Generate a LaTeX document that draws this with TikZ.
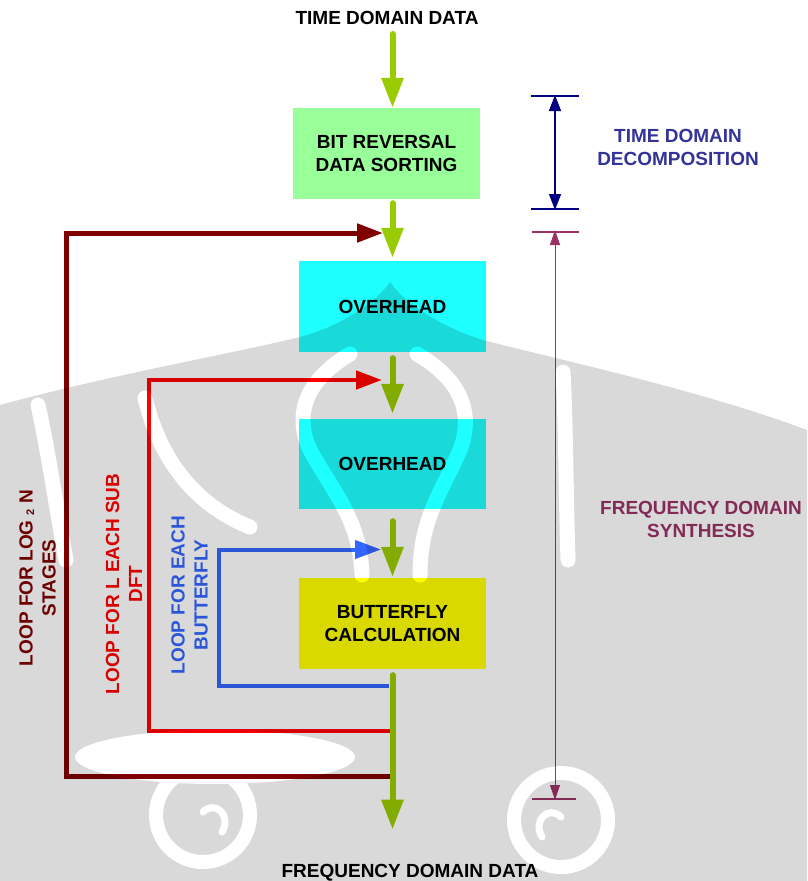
\documentclass[tikz,border=0pt]{standalone}
\usepackage{fontspec}
\setmainfont{Liberation Sans}
\usetikzlibrary{arrows.meta}

\definecolor{flowgreen}{HTML}{99CC00}
\definecolor{sortgreen}{HTML}{99FF99}
\definecolor{overcyan}{HTML}{1EFFFF}
\definecolor{bflyyellow}{HTML}{FFFF00}
\definecolor{stagered}{HTML}{800000}
\definecolor{subred}{HTML}{FF0000}
\definecolor{bflyblue}{HTML}{3366FF}
\definecolor{decnavy}{HTML}{000080}
\definecolor{dectext}{HTML}{333399}
\definecolor{synpurple}{HTML}{993366}
\definecolor{wmark}{HTML}{D9D9D9}

\tikzset{
  lbl/.style={font=\bfseries\fontsize{19}{23}\selectfont, inner sep=0pt, align=center},
  stagebox/.style={lbl, minimum width=187pt, minimum height=91pt},
  flow/.style={draw=flowgreen, line width=6pt, line cap=round,
    -{Triangle[length=30pt,width=21pt]}},
  loopback/.style={line width=#1, -{Triangle[length=26pt,width=18pt]}},
  wband/.style={draw=white, line width=15pt, line cap=round},
}

\begin{document}
\begin{tikzpicture}[x=1pt,y=-1pt]
\useasboundingbox (0,0) rectangle (807,881);
\fill[white] (0,0) rectangle (807,881);

% stages of the flow
\node[lbl] (src) at (387,24) [anchor=base] {TIME DOMAIN DATA};
\node[stagebox, fill=sortgreen] (sort) at (386.5,153.5) {BIT REVERSAL\\DATA SORTING};
\node[stagebox, fill=overcyan] (ovA) at (392.5,306.5) {OVERHEAD};
\node[stagebox, fill=overcyan, minimum height=90pt] (ovB) at (392.5,464) {OVERHEAD};
\node[stagebox, fill=bflyyellow] (bfly) at (392.5,623.5) {BUTTERFLY\\CALCULATION};
\node[lbl] (dst) at (410,877) [anchor=base] {FREQUENCY DOMAIN DATA};

% loop labels
\node[lbl, text=stagered, rotate=90] (txtA) at (37.5,578)
  {LOOP FOR LOG {\fontsize{11}{11}\selectfont\raisebox{-1.5pt}{2}} N\\STAGES};
\node[lbl, text=subred, rotate=90] (txtB) at (124,584) {LOOP FOR L EACH SUB\\DFT};
\node[lbl, text=bflyblue, rotate=90] (txtC) at (189.5,595) {LOOP FOR EACH\\BUTTERFLY};

% loop return paths
\coordinate (outA) at (391,776);
\coordinate (cornA) at (66.5,233);
\coordinate (inA) at (383,233);
\coordinate (outB) at (391,731);
\coordinate (cornB) at (149,380);
\coordinate (inB) at (382,380);
\coordinate (outC) at (389,685.5);
\coordinate (cornC) at (218.5,549.5);
\coordinate (inC) at (381,549.5);
\draw[loopback=5pt, draw=stagered] (outA) -| (cornA) -- (inA);
\draw[loopback=4.5pt, draw=subred] (outB) -| (cornB) -- (inB);
\draw[loopback=4pt, draw=bflyblue] (outC) -| (cornC) -- (inC);

% main data path
\draw[flow] ([yshift=-10pt]src.base -| ovA.center) -- (sort.north -| ovA.center);
\draw[flow] ([yshift=-4pt]sort.south -| ovA.center) -- ([yshift=3pt]ovA.north);
\draw[flow] ([yshift=-6pt]ovA.south) -- ([yshift=5pt]ovB.north);
\draw[flow] ([yshift=-12pt]ovB.south) -- ([yshift=1pt]bfly.north);
\draw[flow] ([yshift=-6pt]bfly.south) -- ([yshift=34pt]dst.north -| bfly.south);

% time domain decomposition bracket
\coordinate (tdTop) at (555,96);
\coordinate (tdBot) at (555,209);
\draw[decnavy, line width=1.6pt] ([xshift=-24pt]tdTop) -- ([xshift=24pt]tdTop);
\draw[decnavy, line width=1.6pt] ([xshift=-24pt]tdBot) -- ([xshift=24pt]tdBot);
\draw[decnavy, line width=1.4pt, {Triangle[length=16pt,width=12pt]}-{Triangle[length=16pt,width=12pt]}]
  ([yshift=1pt]tdTop) -- ([yshift=-1pt]tdBot);
\node[lbl, text=dectext] (tdText) at (678,147.5) {TIME DOMAIN\\DECOMPOSITION};

% frequency domain synthesis bracket
\coordinate (fsTop) at (555,232);
\coordinate (fsBot) at (555,799);
\draw[synpurple, line width=1.2pt] ([xshift=-23pt]fsTop) -- ([xshift=24pt]fsTop);
\draw[synpurple, line width=1.2pt] ([xshift=-23pt]fsBot) -- ([xshift=21pt]fsBot);
\draw[synpurple, line width=1pt, {Triangle[length=15pt,width=10pt]}-{Triangle[length=15pt,width=10pt]}]
  ([yshift=2pt]fsTop) -- ([yshift=-1pt]fsBot);
\node[lbl, text=synpurple] (fsText) at (701,519) {FREQUENCY DOMAIN\\SYNTHESIS};

% faint emblem printed over the page (multiplied, so white leaves it unchanged)
\begin{scope}[blend mode=multiply]
\begin{scope}[transparency group]
\fill[wmark] (0,405) .. controls (110,375) and (240,352) .. (300,337)
  .. controls (345,325) and (378,300) .. (390,282)
  .. controls (402,300) and (435,325) .. (483,340)
  .. controls (560,360) and (700,390) .. (807,430)
  -- (807,881) -- (0,881) -- cycle;
% central bulb
\draw[wband] (350,354) .. controls (310,378) and (292,410) .. (310,450)
  .. controls (335,495) and (360,520) .. (362,575);
\draw[wband] (417,354) .. controls (458,378) and (475,410) .. (460,450)
  .. controls (440,495) and (420,520) .. (420,575);
% side horns
\draw[wband] (145,398) .. controls (160,460) and (195,505) .. (250,527);
\draw[wband] (563,372) .. controls (566,430) and (566,500) .. (568,560);
\draw[wband] (38,405) .. controls (48,450) and (55,500) .. (66,560);
% lower opening and the two curls
\fill[white] (215,757) ellipse [x radius=140, y radius=27];
\draw[white, line width=14pt] (203,815) circle [radius=47];
\draw[white, line width=14pt] (561,820) circle [radius=47];
\draw[white, line width=7pt, line cap=round] (203,812) .. controls (215,800) and (232,815) .. (222,832);
\draw[white, line width=7pt, line cap=round] (561,817) .. controls (549,805) and (532,820) .. (542,837);
\end{scope}
\end{scope}
\end{tikzpicture}
\end{document}
